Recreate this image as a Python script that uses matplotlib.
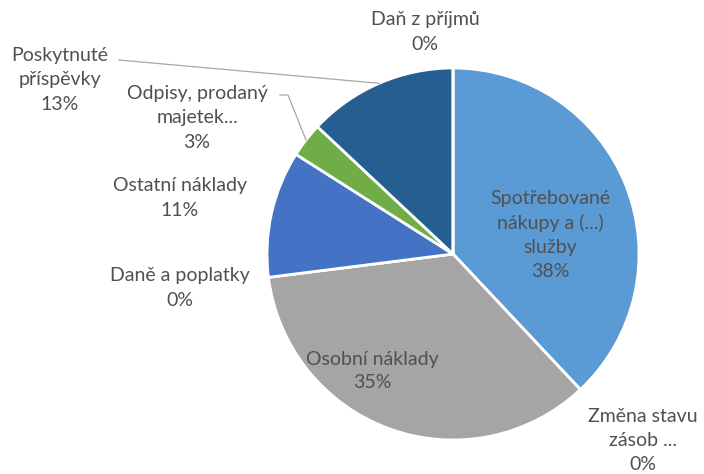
import numpy as np
import matplotlib.pyplot as plt

plt.rcParams['font.family'] = ['Lato', 'DejaVu Sans']

categories = ["Spotřebované\nnákupy a (...)\nslužby", "Změna stavu\nzásob ...",
              "Osobní náklady", "Daně a poplatky", "Ostatní náklady",
              "Odpisy, prodaný\nmajetek...", "Poskytnuté\npříspěvky", "Daň z příjmů"]
shares = [38, 0, 35, 0, 11, 3, 13, 0]
colors = ["#5B9BD5", "#ED7D31", "#A5A5A5", "#FFC000", "#4472C4",
          "#70AD47", "#255E91", "#9E480E"]

# label centres in pixels (x, y from top)
label_px = [(550, 235), (643, 441), (372, 371), (180, 288), (180, 198),
            (197, 118), (60, 80), (425, 32)]

W, H = 704, 474
cx, cy, r = 453, 254, 186

fig = plt.figure(figsize=(W / 100, H / 100), dpi=100)
ax = fig.add_axes([(cx - r) / W, (H - cy - r) / H, 2 * r / W, 2 * r / H])
wedges, _ = ax.pie(shares, colors=colors, startangle=90, counterclock=False,
                   radius=1, wedgeprops=dict(edgecolor='white', linewidth=2))
ax.set_xlim(-1, 1)
ax.set_ylim(-1, 1)
ax.axis('off')


def to_data(px, py):
    return (px - cx) / r, (cy - py) / r


for lab, v, (px, py) in zip(categories, shares, label_px):
    x, y = to_data(px, py)
    ax.text(x, y, f"{lab}\n{v}%", ha='center', va='center', fontsize=14,
            color='#505050', linespacing=1.5, clip_on=False)

# leader lines for outside labels
def edge_point(i):
    w = wedges[i]
    mid = np.deg2rad((w.theta1 + w.theta2) / 2)
    return np.cos(mid), np.sin(mid)

ex, ey = edge_point(6)
sx, sy = to_data(119, 60)
ax.plot([sx, ex], [sy, ey], color='#A6A6A6', lw=0.9, clip_on=False)

ex, ey = edge_point(5)
sx, sy = to_data(280, 95)
kx, ky = to_data(288, 95)
ax.plot([sx, kx, ex], [sy, ky, ey], color='#A6A6A6', lw=0.9, clip_on=False)

fig.savefig('out.png', dpi=100)
